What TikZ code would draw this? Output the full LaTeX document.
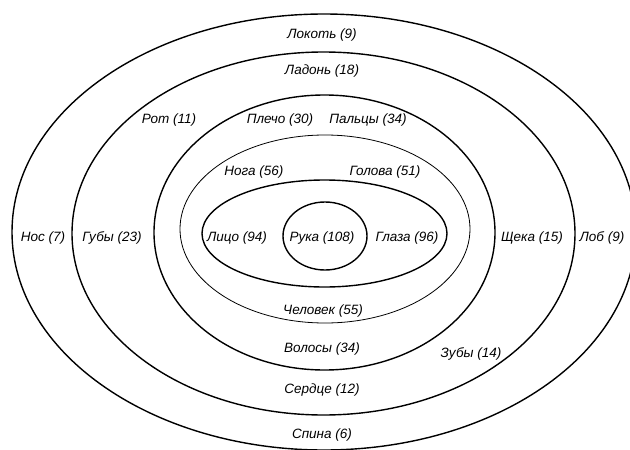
\documentclass[tikz,border=0pt]{standalone}
\usepackage{fontspec}
\setmainfont{Liberation Sans}
\begin{document}
\begin{tikzpicture}[x=1pt,y=-1pt,
  ring/.style={line width=1.4pt},
  thinring/.style={line width=0.8pt},
  lbl/.style={font=\fontsize{13.5}{15}\selectfont\itshape, inner sep=0pt}]
\useasboundingbox (0,0) rectangle (630,450);
\begin{scope}
\clip (0,0) rectangle (630,450);
\draw[ring] (324,232) ellipse [x radius=312pt, y radius=218pt];
\draw[ring] (323.5,233.5) ellipse [x radius=251.5pt, y radius=181.5pt];
\draw[ring] (324.5,232.5) ellipse [x radius=170.5pt, y radius=137.5pt];
\draw[thinring] (325,229) ellipse [x radius=145pt, y radius=94pt];
\draw[ring] (324.5,233.5) ellipse [x radius=122.5pt, y radius=53.5pt];
\draw[ring] (325,236) ellipse [x radius=42pt, y radius=34pt];
\end{scope}
\node[lbl] (lokot) at (322,35) {Локоть (9)};
\node[lbl] (ladon) at (322,71) {Ладонь (18)};
\node[lbl] (rot) at (169,120) {Рот (11)};
\node[lbl] (plecho) at (280,120) {Плечо (30)};
\node[lbl] (paltsy) at (368,120) {Пальцы (34)};
\node[lbl] (noga) at (254,172) {Нога (56)};
\node[lbl] (golova) at (385,172) {Голова (51)};
\node[lbl] (nos) at (43,238) {Нос (7)};
\node[lbl] (guby) at (112,238) {Губы (23)};
\node[lbl] (litso) at (237,238) {Лицо (94)};
\node[lbl] (ruka) at (322,238) {Рука (108)};
\node[lbl] (glaza) at (407,238) {Глаза (96)};
\node[lbl] (scheka) at (532,238) {Щека (15)};
\node[lbl] (lob) at (602,238) {Лоб (9)};
\node[lbl] (chelovek) at (323,311) {Человек (55)};
\node[lbl] (volosy) at (322,349) {Волосы (34)};
\node[lbl] (zuby) at (471,354) {Зубы (14)};
\node[lbl] (serdtse) at (322,390) {Сердце (12)};
\node[lbl] (spina) at (322,435) {Спина (6)};
\end{tikzpicture}
\end{document}
